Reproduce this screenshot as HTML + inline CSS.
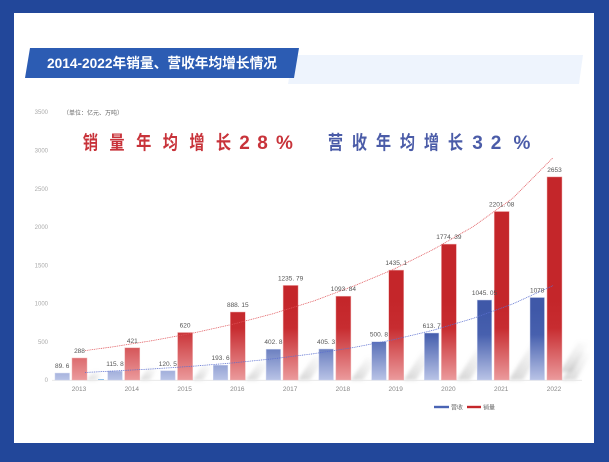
<!DOCTYPE html>
<html><head><meta charset="utf-8"><style>
html,body{margin:0;padding:0;width:609px;height:462px;overflow:hidden;background:#22479a;}
svg{display:block;}
text{font-family:"Liberation Sans","Noto Sans CJK SC",sans-serif;}
</style></head><body>
<svg width="609" height="462" viewBox="0 0 609 462" xmlns="http://www.w3.org/2000/svg">
<defs>
<linearGradient id="gr" gradientUnits="userSpaceOnUse" x1="0" y1="300" x2="0" y2="380">
<stop offset="0" stop-color="#c4262a"/><stop offset="0.35" stop-color="#c72c30"/><stop offset="1" stop-color="#eb9a9c"/></linearGradient>
<linearGradient id="gb" gradientUnits="userSpaceOnUse" x1="0" y1="310" x2="0" y2="380">
<stop offset="0" stop-color="#3f58a8"/><stop offset="0.35" stop-color="#4760ae"/><stop offset="1" stop-color="#b9c3e6"/></linearGradient>
<linearGradient id="sh" x1="0" y1="1" x2="1" y2="0">
<stop offset="0" stop-color="#9a9a9a" stop-opacity="0.45"/><stop offset="1" stop-color="#bdbdbd" stop-opacity="0"/></linearGradient>
<filter id="bl"><feGaussianBlur stdDeviation="1.8"/></filter>
</defs>
<rect x="14" y="13" width="580" height="430" fill="#ffffff"/>
<polygon points="293,55 583,55 579,84 288,84" fill="#eef4fd"/>
<polygon points="30,48 299,48 294,78 25,78" fill="#2c5cb3"/>
<text x="47" y="68" font-size="14" font-weight="bold" fill="#ffffff" textLength="230" lengthAdjust="spacingAndGlyphs">2014-2022年销量、营收年均增长情况</text>

<text x="63" y="115" font-size="6" fill="#666">（单位：亿元、万吨）</text>

<g font-size="6" fill="#aaa" text-anchor="end">
<text x="48" y="114">3500</text>
<text x="48" y="152.5">3000</text>
<text x="48" y="190.8">2500</text>
<text x="48" y="229.1">2000</text>
<text x="48" y="267.4">1500</text>
<text x="48" y="305.7">1000</text>
<text x="48" y="344">500</text>
<text x="48" y="382">0</text>
</g>

<g font-size="19" font-weight="bold" fill="#c8333a" text-anchor="middle">
<text transform="translate(90.5,149) scale(0.8,1)">销</text>
<text transform="translate(117,149) scale(0.8,1)">量</text>
<text transform="translate(143.7,149) scale(0.8,1)">年</text>
<text transform="translate(170.3,149) scale(0.8,1)">均</text>
<text transform="translate(197,149) scale(0.8,1)">增</text>
<text transform="translate(223.5,149) scale(0.8,1)">长</text>
<text x="244.5" y="149">2</text>
<text x="262.5" y="149">8</text>
<text x="284.5" y="149">%</text>
</g>
<g font-size="19" font-weight="bold" fill="#4b5ca8" text-anchor="middle">
<text transform="translate(335.5,149) scale(0.8,1)">营</text>
<text transform="translate(359.5,149) scale(0.8,1)">收</text>
<text transform="translate(383.5,149) scale(0.8,1)">年</text>
<text transform="translate(407.5,149) scale(0.8,1)">均</text>
<text transform="translate(431.5,149) scale(0.8,1)">增</text>
<text transform="translate(455.5,149) scale(0.8,1)">长</text>
<text x="477.5" y="149">3</text>
<text x="496" y="149">2</text>
<text x="522" y="149">%</text>
</g>

<!-- shadows -->
<g filter="url(#bl)" fill="url(#sh)">
<polygon points="87,380 97,380 103,372 93,372"/>
<polygon points="140,380 150,380 158,368 148,368"/>
<polygon points="193,380 203,380 213,365 203,365"/>
<polygon points="246,380 257,380 270,362 259,362"/>
<polygon points="298,380 310,380 326,356 314,356"/>
<polygon points="351,380 363,380 378,358 366,358"/>
<polygon points="404,380 416,380 434,352 422,352"/>
<polygon points="457,380 470,380 490,348 477,348"/>
<polygon points="509,380 523,380 545,344 531,344"/>
<polygon points="562,380 576,380 592,352 580,352"/>
<polygon points="560,372 572,372 590,342 578,342"/>
</g>

<line x1="52" y1="380.3" x2="582" y2="380.3" stroke="#e6e6e6" stroke-width="0.8"/>
<line x1="98" y1="379.5" x2="104" y2="379.5" stroke="#8fc1ea" stroke-width="1"/>

<!-- blue bars -->
<g fill="url(#gb)" stroke="#c9d1ee" stroke-width="0.5">
<rect x="55" y="373.1" width="14.5" height="6.9"/>
<rect x="107.8" y="371.1" width="14.5" height="8.9"/>
<rect x="160.6" y="370.8" width="14.5" height="9.2"/>
<rect x="213.3" y="365.2" width="14.5" height="14.8"/>
<rect x="266.1" y="349.2" width="14.5" height="30.8"/>
<rect x="318.9" y="349" width="14.5" height="31"/>
<rect x="371.7" y="341.7" width="14.5" height="38.3"/>
<rect x="424.4" y="333" width="14.5" height="47"/>
<rect x="477.2" y="300" width="14.5" height="80"/>
<rect x="530" y="297.5" width="14.5" height="82.5"/>
</g>
<!-- red bars -->
<g fill="url(#gr)" stroke="#f1b3b4" stroke-width="0.5">
<rect x="72" y="358" width="15" height="22"/>
<rect x="124.8" y="347.8" width="15" height="32.2"/>
<rect x="177.6" y="332.5" width="15" height="47.5"/>
<rect x="230.3" y="312" width="15" height="68"/>
<rect x="283.1" y="285.4" width="15" height="94.6"/>
<rect x="335.9" y="296.2" width="15" height="83.8"/>
<rect x="388.7" y="270.1" width="15" height="109.9"/>
<rect x="441.4" y="244.1" width="15" height="135.9"/>
<rect x="494.2" y="211.5" width="15" height="168.5"/>
<rect x="547" y="176.9" width="15" height="203.1"/>
</g>

<!-- trend lines -->
<polyline fill="none" stroke="#e0555a" stroke-width="0.8" stroke-dasharray="1 0.8" points="85,350.6 113,346.8 153,340.5 193,333.1 233,324.2 273,313.7 313,301.2 353,286.3 393,269.6 433,249.6 473,226.7 513,198 553,157.7"/>
<polyline fill="none" stroke="#5b6fd0" stroke-width="0.8" stroke-dasharray="1 0.8" points="85,372.5 113,371 153,368.9 193,366.2 233,362.9 273,358.8 313,353.8 353,347.6 393,339.8 433,330.3 473,318.4 513,303.8 553,285.6"/>

<!-- value labels -->
<g font-size="6.5" fill="#555" text-anchor="middle" font-family="Liberation Mono, monospace">
<text x="62.2" y="368">89. 6</text>
<text x="115" y="366">115. 8</text>
<text x="167.8" y="365.8">120. 5</text>
<text x="220.6" y="360.2">193. 6</text>
<text x="273.4" y="344.2">402. 8</text>
<text x="326.1" y="344">405. 3</text>
<text x="378.9" y="336.7">500. 8</text>
<text x="431.7" y="328">613. 7</text>
<text x="484.5" y="295">1045. 05</text>
<text x="537.2" y="292.5">1078</text>
<text x="79.5" y="353">288</text>
<text x="132.3" y="342.8">421</text>
<text x="185.1" y="327.5">620</text>
<text x="237.8" y="307">888. 15</text>
<text x="290.6" y="280.4">1235. 79</text>
<text x="343.4" y="291.2">1093. 84</text>
<text x="396.2" y="265.1">1435. 1</text>
<text x="448.9" y="239.1">1774. 39</text>
<text x="501.7" y="206.5">2201. 08</text>
<text x="554.5" y="172">2653</text>
</g>

<!-- x labels -->
<g font-size="6.5" fill="#888" text-anchor="middle">
<text x="79" y="391">2013</text>
<text x="131.8" y="391">2014</text>
<text x="184.6" y="391">2015</text>
<text x="237.3" y="391">2016</text>
<text x="290.1" y="391">2017</text>
<text x="342.9" y="391">2018</text>
<text x="395.7" y="391">2019</text>
<text x="448.4" y="391">2020</text>
<text x="501.2" y="391">2021</text>
<text x="554" y="391">2022</text>
</g>

<!-- legend -->
<rect x="434" y="405.8" width="15" height="2.4" fill="#4a64b4"/>
<text x="451" y="409.3" font-size="6" fill="#666">营收</text>
<rect x="467" y="405.8" width="14" height="2.4" fill="#c4262a"/>
<text x="483" y="409.3" font-size="6" fill="#666">销量</text>
</svg>
</body></html>
